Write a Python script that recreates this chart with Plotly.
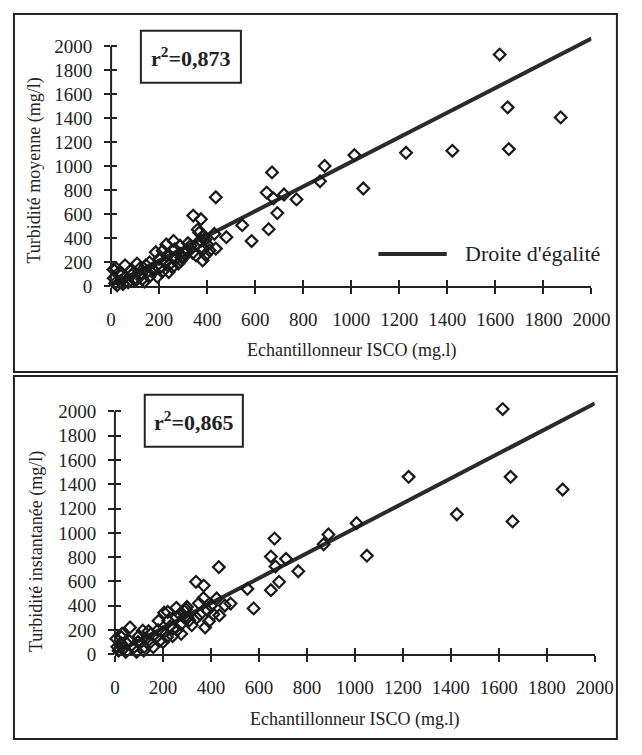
import plotly.graph_objects as go

# la page ajoute une marge de 8 px autour du graphique : 626 + 2*8 = 642, 739 + 2*8 = 755
OFF = 8
FW, FH = 626, 739
INK = "#222222"
SERIF = "Liberation Serif"

# Turbidité moyenne vs échantillonneur ISCO (mg/l)
moy_isco = [1618, 1651, 1656, 1872, 1421, 1228, 1013, 1050, 889, 870, 772, 720, 692, 676, 670,
            648, 656, 546, 585, 480, 436, 430, 436, 342, 374, 367, 387, 392, 381, 394,
            357, 354, 331, 307, 291, 287, 361, 374, 385, 260, 215, 186, 233, 287, 314,
            293, 280, 246, 213, 172, 145, 108, 58, 22, 44, 38, 85, 125, 159, 192,
            105, 139, 71, 11, 17, 200, 230, 265, 320, 300, 255, 225, 180, 150, 120,
            95, 60, 30, 10, 50, 160, 200, 340, 270, 400, 410, 240, 130, 80, 25]
moy_turb = [1932, 1492, 1144, 1408, 1130, 1114, 1094, 816, 1004, 876, 725, 766, 611, 734, 950,
            782, 477, 510, 378, 410, 743, 438, 315, 590, 560, 448, 420, 390, 217, 262,
            356, 258, 339, 272, 217, 272, 474, 379, 312, 379, 298, 285, 257, 339, 298,
            244, 190, 190, 122, 144, 176, 190, 176, 149, 108, 41, 95, 95, 81, 81,
            54, 41, 35, 68, 27, 230, 350, 310, 360, 240, 160, 210, 130, 120, 150,
            60, 80, 110, 140, 20, 200, 150, 280, 230, 350, 300, 120, 60, 130, 10]

# Turbidité instantanée vs échantillonneur ISCO (mg/l)
inst_isco = [1616, 1649, 1657, 1866, 1425, 1224, 1007, 1050, 890, 870, 764, 713, 684, 669, 665,
             650, 650, 552, 578, 482, 458, 433, 424, 435, 338, 370, 369, 386, 355, 376,
             296, 289, 256, 205, 289, 302, 256, 222, 182, 276, 242, 216, 276, 149, 116,
             63, 27, 50, 96, 149, 189, 36, 122, 6, 10, 392, 400, 320, 340, 230,
             200, 260, 170, 130, 100, 80, 60, 30, 15, 45, 160, 200, 240, 310, 350,
             410, 120, 90, 180, 270, 220, 300, 25, 140]
inst_turb = [2019, 1461, 1094, 1357, 1153, 1461, 1080, 812, 987, 906, 684, 786, 597, 724, 953,
             805, 528, 539, 378, 418, 402, 718, 460, 321, 597, 566, 463, 361, 329, 222,
             370, 303, 383, 343, 356, 303, 303, 276, 276, 249, 209, 142, 169, 169, 195,
             222, 142, 88, 102, 102, 116, 48, 62, 128, 62, 272, 400, 240, 300, 230,
             180, 200, 140, 130, 150, 60, 110, 170, 30, 20, 60, 100, 150, 280, 420,
             330, 30, 20, 200, 330, 350, 390, 90, 190]

# droite d'égalité (telle que tracée sur la figure)
egal_x = [0, 2000]
egal_y = [10, 2065]

tick_vals = list(range(0, 2001, 200))
Y_TOP = 2080


def fx(p):
    return (p - OFF) / FW


def fy(p):
    return 1 - (p - OFF) / FH


panels = [
    dict(data=(moy_isco, moy_turb), r2="0,873", ytitle="Turbidité moyenne (mg/l)",
         x0=110, x2000=609.5, y0=290, y2000=46, frame=(9, 13, 636, 377),
         box=(141, 30, 245, 83), xt=(360, 355), yt=(30, 172), legend=True),
    dict(data=(inst_isco, inst_turb), r2="0,865", ytitle="Turbidité instantanée (mg/l)",
         x0=114, x2000=613, y0=664, y2000=417, frame=(9, 381, 636, 750),
         box=(145, 400, 247, 453), xt=(363, 730), yt=(32, 560), legend=False),
]

fig = go.Figure()
layout = dict(width=FW, height=FH, margin=dict(l=0, r=0, t=0, b=0),
              paper_bgcolor="white", plot_bgcolor="rgba(0,0,0,0)",
              showlegend=False, font=dict(family=SERIF, size=18, color=INK))
shapes, annots = [], []

for i, p in enumerate(panels):
    n = i + 1
    o = i + 3
    xs, ys = p["data"]
    per = (p["y0"] - p["y2000"]) / 2000
    ytop_px = p["y0"] - Y_TOP * per
    xdom = [fx(p["x0"]), fx(p["x2000"])]
    ydom = [fy(p["y0"]), fy(ytop_px)]
    xa, ya = f"x{n}" if n > 1 else "x", f"y{n}" if n > 1 else "y"

    fig.add_trace(go.Scatter(x=egal_x, y=egal_y, mode="lines", xaxis=xa, yaxis=ya,
                             line=dict(color="#2a2a2a", width=4), hoverinfo="skip"))
    fig.add_trace(go.Scatter(x=xs, y=ys, mode="markers", xaxis=xa, yaxis=ya, cliponaxis=False,
                             marker=dict(symbol="diamond-open", size=9, color="#1a1a1a",
                                         line=dict(width=2.2))))
    fig.add_trace(go.Scatter(x=[], y=[], xaxis=f"x{o}", yaxis=f"y{o}", hoverinfo="skip"))

    common = dict(showgrid=False, zeroline=False, tickvals=tick_vals,
                  tickwidth=2, tickcolor=INK, ticklen=6)
    layout[f"xaxis{n if n > 1 else ''}"] = dict(
        common, domain=xdom, range=[0, 2000], anchor=ya, showline=True, linewidth=2,
        linecolor=INK, ticks="outside", ticklabelstandoff=9, tickfont=dict(size=19))
    layout[f"yaxis{n if n > 1 else ''}"] = dict(
        common, domain=ydom, range=[0, Y_TOP], anchor=xa, showline=False,
        ticks="outside", ticklabelstandoff=8, tickfont=dict(size=19))
    layout[f"xaxis{o}"] = dict(common, overlaying=xa, range=[0, 2000], anchor=f"y{o}",
                               ticks="inside", showticklabels=False)
    layout[f"yaxis{o}"] = dict(common, overlaying=ya, range=[0, Y_TOP], anchor=f"x{o}",
                               ticks="inside", showticklabels=False)

    # axe vertical jusqu'à 2000
    shapes.append(dict(type="line", xref="paper", yref="paper", x0=xdom[0], x1=xdom[0],
                       y0=ydom[0], y1=fy(p["y2000"]), line=dict(color=INK, width=2)))
    # cadre du panneau
    l, t, r, b = p["frame"]
    shapes.append(dict(type="rect", xref="paper", yref="paper", x0=fx(l), x1=fx(r),
                       y0=fy(b), y1=fy(t), line=dict(color=INK, width=2)))
    # cadre r²
    l, t, r, b = p["box"]
    shapes.append(dict(type="rect", xref="paper", yref="paper", x0=fx(l), x1=fx(r),
                       y0=fy(b), y1=fy(t), line=dict(color=INK, width=2),
                       fillcolor="white"))
    annots.append(dict(xref="paper", yref="paper", x=fx((l + r) / 2), y=fy((t + b) / 2),
                       xanchor="center", yanchor="middle",
                       text=f"<b>r<sup>2</sup>=" + p["r2"] + "</b>", showarrow=False,
                       font=dict(size=22, family=SERIF, color=INK)))
    annots.append(dict(xref="paper", yref="paper", x=fx(p["xt"][0]), y=fy(p["xt"][1]),
                       xanchor="center", yanchor="middle",
                       text="Echantillonneur ISCO (mg.l)", showarrow=False,
                       font=dict(size=18)))
    annots.append(dict(xref="paper", yref="paper", x=fx(p["yt"][0]), y=fy(p["yt"][1]),
                       xanchor="center", yanchor="middle",
                       text=p["ytitle"], textangle=-90, showarrow=False,
                       font=dict(size=18)))
    if p["legend"]:
        shapes.append(dict(type="line", xref="paper", yref="paper", x0=fx(388), x1=fx(459),
                           y0=fy(257), y1=fy(257), line=dict(color="#2a2a2a", width=4)))
        annots.append(dict(xref="paper", yref="paper", x=fx(476), y=fy(257),
                           xanchor="left", yanchor="middle", text="Droite d'égalité",
                           showarrow=False, font=dict(size=22)))

layout["shapes"] = shapes
layout["annotations"] = annots
fig.update_layout(**layout)
fig.write_html("out.html", config={"displayModeBar": False})
